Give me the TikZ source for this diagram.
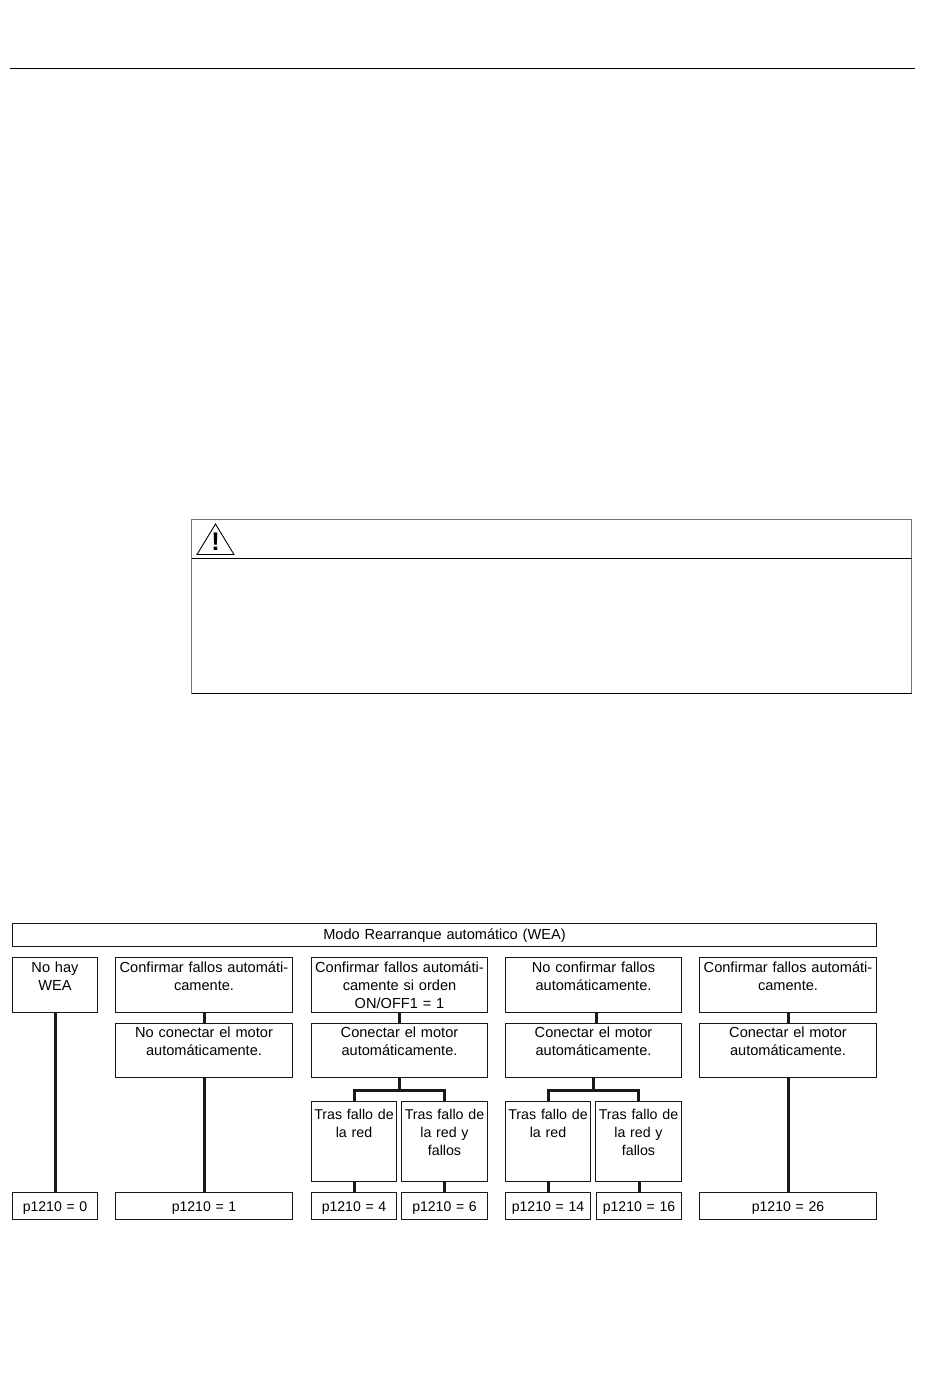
\documentclass[tikz,border=0pt]{standalone}
\usepackage{fontspec}
\setmainfont{Liberation Sans}
\usetikzlibrary{positioning, calc}

\begin{document}
\begin{tikzpicture}[
    x=0.02cm, y=-0.02cm,
    cell/.style n args={3}{draw=black!90, line width=0.02cm, anchor=north west,
                  inner sep=0pt, outer sep=0pt, align=center,
                  text width=#1*0.02cm, text height=#3*0.02cm,
                  text depth=(#2-#3)*0.02cm,
                  font=\fontsize{8.3pt}{10.2pt}\selectfont},
    narrow/.style={font=\fontsize{8.1pt}{10.2pt}\selectfont},
    param/.style={font=\fontsize{8pt}{10pt}\selectfont},
    link/.style={line width=0.06cm, draw=black!90},
    warnline/.style={line width=0.02cm},
]
\useasboundingbox (0, 0) rectangle (950, 1397);

% ===================== PAGE RULE =====================
\coordinate (ruleL) at (10, 68.5);
\coordinate (ruleR) at (915, 68.5);
\draw[warnline] (ruleL) -- (ruleR);

% ===================== WARNING BOX =====================
\draw[warnline, draw=black!55] (191.5, 519.5) rectangle (911.5, 693.5);
\draw[warnline] (191.5, 558) -- (911.5, 558);
\draw[warnline] (191.5, 693.5) -- (911.5, 693.5);
\draw[line width=0.018cm, line join=miter] (215.5, 524) -- (234, 554.5) -- (197, 554.5) -- cycle;
\node[font=\fontsize{14.5pt}{15pt}\selectfont\bfseries, inner sep=0pt] (warnmark) at (215.5, 541.5) {!};

% ===================== MODE HEADER =====================
\node[cell={864}{23}{15.5}] (mode) at (12.5, 923.5) {Modo Rearranque automático (WEA)};

% ===================== COLUMNS, FIRST ROW =====================
\node[cell={85}{55}{14.8}] (A1) at (12.5, 957.5) {No hay\\WEA};
\node[cell={177}{55}{14.8}] (A2) at (115.5, 957.5) {Confirmar fallos automáti-\\camente.};
\node[cell={176}{55}{14.8}] (A3) at (311.5, 957.5) {Confirmar fallos automáti-\\camente si orden\\ON/OFF1 = 1};
\node[cell={176}{55}{14.8}] (A4) at (505.5, 957.5) {No confirmar fallos\\automáticamente.};
\node[cell={177}{55}{14.8}] (A5) at (699.5, 957.5) {Confirmar fallos automáti-\\camente.};

% ===================== COLUMNS, SECOND ROW =====================
\node[cell={177}{54.5}{14.3}] (B2) at (115.5, 1023) {No conectar el motor\\automáticamente.};
\node[cell={176}{54.5}{14.3}] (B3) at (311.5, 1023) {Conectar el motor\\automáticamente.};
\node[cell={176}{54.5}{14.3}] (B4) at (505.5, 1023) {Conectar el motor\\automáticamente.};
\node[cell={177}{54.5}{14.3}] (B5) at (699.5, 1023) {Conectar el motor\\automáticamente.};

% ===================== THIRD ROW =====================
\foreach \n/\x/\w/\t in {3a/311.5/85/{Tras fallo de\\la red}, 3b/401.5/86/{Tras fallo de\\la red y\\fallos},
                         4a/505.5/85/{Tras fallo de\\la red}, 4b/595.5/86/{Tras fallo de\\la red y\\fallos}} {
    \node[cell={\w}{80}{17.8}, narrow] (T\n) at (\x, 1101.5) {\t};
}

% ===================== PARAMETER ROW =====================
\foreach \n/\x/\w/\v in {1/12.5/85/0, 2/115.5/177/1, 3a/311.5/85/4, 3b/401.5/86/6,
                         4a/505.5/85/14, 4b/596.5/85/16, 5/699.5/177/26} {
    \node[cell={\w}{27}{19}, param] (P\n) at (\x, 1192) {p1210 = \v};
}

% ===================== CONNECTORS =====================
\draw[link] (A1.south) -- (P1.north);
\draw[link] (A2.south) -- (B2.north);
\draw[link] (B2.south) -- (P2.north);
\foreach \c in {3, 4} {
    \coordinate (J\c) at ($(B\c.south)+(0, 13)$);
    \draw[link] (B\c.south) -- (J\c);
    \draw[link] (T\c a.north) |- (J\c) -| (T\c b.north);
    \draw[link] (P\c a.north) -- (P\c a.north |- T\c a.south);
    \draw[link] (P\c b.north) -- (P\c b.north |- T\c b.south);
}
\draw[link] (A3.south) -- (B3.north);
\draw[link] ([xshift=0.06cm]A4.south) -- ([xshift=0.06cm]B4.north);
\draw[link] (A5.south) -- (B5.north);
\draw[link] (B5.south) -- (P5.north);

\end{tikzpicture}
\end{document}
